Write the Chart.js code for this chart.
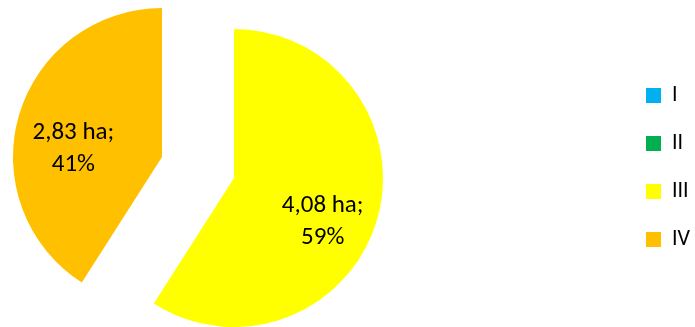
<!DOCTYPE html>
<html>
<head>
    <title>Površina po kategorijama</title>
    <script src="https://cdn.jsdelivr.net/npm/chart.js"></script>
    <style>
        body { margin: 0; background: #fff; }
    </style>
</head>
<body>
    <canvas id="pieChart" width="695" height="327"></canvas>

    <script>
        var categories = ["I", "II", "III", "IV"];
        var areaHa = [0, 0, 4.08, 2.83];
        var sliceColors = ["#00B0F0", "#00B050", "#FFFF00", "#FFC000"];

        var fontFamily = "Carlito, Calibri, Lato, sans-serif";

        // pie sits on the left like in the excel sheet, legend stays on the far right
        var pieArea = {
            id: "pieArea",
            afterLayout: function (chart) {
                var a = chart.chartArea;
                a.left = 0;
                a.right = 396;
                a.width = a.right - a.left;
                chart.legend.left += 5;
                chart.legend.right += 5;
            }
        };

        // exploded slices: every arc pushed out along its bisector by the same distance
        // (arc "offset" option also grows the radius, so do it by hand)
        function explodeShift(arc, dist) {
            var mid = (arc.startAngle + arc.endAngle) / 2;
            return { x: Math.cos(mid) * dist, y: Math.sin(mid) * dist };
        }

        var explodePie = {
            id: "explodePie",
            beforeDatasetDraw: function (chart, args, opts) {
                var ctx = chart.ctx;
                args.meta.data.forEach(function (arc) {
                    var s = explodeShift(arc, opts.distance);
                    ctx.save();
                    ctx.translate(s.x, s.y);
                    arc.draw(ctx);
                    ctx.restore();
                });
                return false;
            }
        };

        // "4,08 ha;" / "59%" inside each slice
        var sliceLabels = {
            id: "sliceLabels",
            afterDatasetsDraw: function (chart) {
                var ctx = chart.ctx;
                var meta = chart.getDatasetMeta(0);
                var dist = chart.options.plugins.explodePie.distance;
                var total = areaHa.reduce(function (a, b) { return a + b; }, 0);
                ctx.save();
                ctx.font = "25px " + fontFamily;
                ctx.fillStyle = "#000";
                ctx.textAlign = "center";
                ctx.textBaseline = "middle";
                meta.data.forEach(function (arc, i) {
                    if (!areaHa[i]) return;
                    var p = explodeShift(arc, dist + arc.outerRadius * 0.62);
                    var x = arc.x + p.x;
                    var y = arc.y + p.y + 18;
                    ctx.fillText(areaHa[i].toFixed(2).replace(".", ",") + " ha;", x, y - 16);
                    ctx.fillText(Math.round(areaHa[i] / total * 100) + "%", x, y + 16);
                });
                ctx.restore();
            }
        };

        var ctx = document.getElementById("pieChart").getContext("2d");
        var chart = new Chart(ctx, {
            type: "pie",
            data: {
                labels: categories,
                datasets: [{
                    data: areaHa,
                    backgroundColor: sliceColors,
                    borderWidth: 0,
                    radius: 149,
                    clip: false
                }]
            },
            options: {
                responsive: false,
                animation: false,
                layout: { padding: { top: 8 } },
                plugins: {
                    explodePie: { distance: 37.5 },
                    legend: {
                        position: "right",
                        labels: {
                            boxWidth: 15,
                            boxHeight: 15,
                            padding: 26,
                            color: "#000",
                            font: { size: 22, family: fontFamily }
                        }
                    },
                    tooltip: { enabled: false }
                }
            },
            plugins: [pieArea, explodePie, sliceLabels]
        });
    </script>
</body>
</html>
